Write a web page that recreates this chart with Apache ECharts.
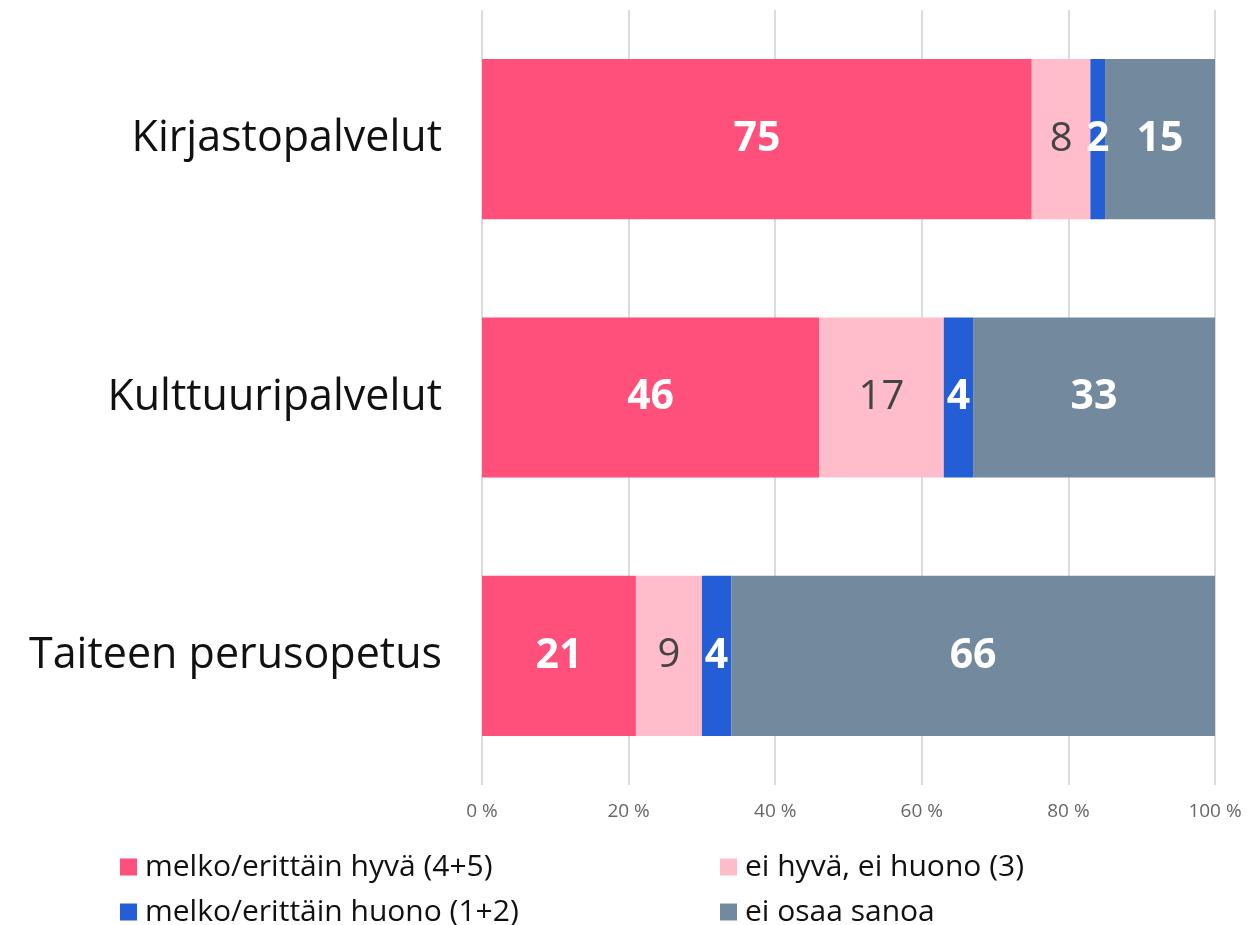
<!DOCTYPE html>
<html>
<head>
<meta charset="utf-8">
<script src="https://cdn.jsdelivr.net/npm/echarts@6/dist/echarts.min.js"></script>
<style>
  html, body { margin: 0; padding: 0; background: #fff; }
  #chart { width: 1250px; height: 925px; }
</style>
</head>
<body>
<div id="chart"></div>
<script>
// categories top to bottom
const categories = ['Kirjastopalvelut', 'Kulttuuripalvelut', 'Taiteen perusopetus'];
const seriesNames = ['melko/erittäin hyvä (4+5)', 'ei hyvä, ei huono (3)', 'melko/erittäin huono (1+2)', 'ei osaa sanoa'];
const good = [75, 46, 21];
const neutral = [8, 17, 9];
const bad = [2, 4, 4];
const dontKnow = [15, 33, 66];
const colors = ['#FF4F7B', '#FFBDCB', '#245ED6', '#738A9E'];

const font = '"Open Sans", sans-serif';
const chart = echarts.init(document.getElementById('chart'));

function makeSeries(name, data, color, dark) {
  return {
    name: name,
    type: 'bar',
    stack: 'total',
    data: data,
    barWidth: '62%',
    itemStyle: { color: color },
    label: {
      show: true,
      position: 'inside',
      fontFamily: font,
      fontSize: dark ? 40 : 41,
      fontWeight: dark ? 'normal' : 'bold',
      color: dark ? '#444' : '#fff',
    },
  };
}

const legendText = { fontFamily: font, fontSize: 30, color: '#111', padding: [0, 0, 0, 3] };

chart.setOption({
  animation: false,
  grid: { left: 482, right: 35, top: 10, bottom: 140 },
  legend: [
    {
      data: [seriesNames[0], seriesNames[2]],
      orient: 'vertical',
      left: 115, top: 847, height: 120,
      itemWidth: 17, itemHeight: 17, itemGap: 15, icon: 'rect',
      textStyle: legendText,
    },
    {
      data: [seriesNames[1], seriesNames[3]],
      orient: 'vertical',
      left: 715, top: 847, height: 120,
      itemWidth: 17, itemHeight: 17, itemGap: 15, icon: 'rect',
      textStyle: legendText,
    },
  ],
  xAxis: {
    type: 'value',
    min: 0, max: 100, interval: 20,
    axisLine: { show: false },
    axisTick: { show: false },
    splitLine: { lineStyle: { color: '#dcdcdc', width: 2 } },
    axisLabel: { formatter: '{value} %', fontFamily: font, fontSize: 19, color: '#666', margin: 17 },
  },
  yAxis: {
    type: 'category',
    data: categories,
    inverse: true,
    axisLine: { show: false },
    axisTick: { show: false },
    axisLabel: { fontFamily: font, fontSize: 43, color: '#111', margin: 40 },
  },
  series: [
    makeSeries(seriesNames[0], good, colors[0], false),
    makeSeries(seriesNames[1], neutral, colors[1], true),
    makeSeries(seriesNames[2], bad, colors[2], false),
    makeSeries(seriesNames[3], dontKnow, colors[3], false),
  ],
});
</script>
</body>
</html>
